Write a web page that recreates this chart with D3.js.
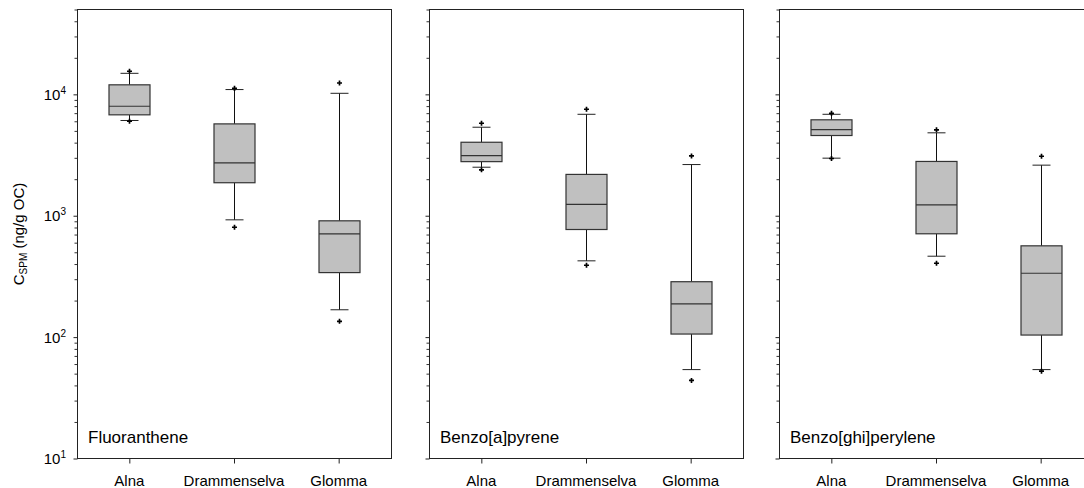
<!DOCTYPE html>
<html>
<head>
<meta charset="utf-8">
<script src="https://cdn.jsdelivr.net/npm/d3@7"></script>
<style>
  body { margin: 0; background: #fff; }
  text { font-family: "Liberation Sans", Arial, sans-serif; fill: #000; }
</style>
</head>
<body>
<div id="chart"></div>
<script>
// compounds (one panel each) and rivers (one box each)
const compounds = ["Fluoranthene", "Benzo[a]pyrene", "Benzo[ghi]perylene"];
const rivers = ["Alna", "Drammenselva", "Glomma"];

// box statistics, indexed [compound][river], ng/g OC
const outlierHigh = [[15500, 11200, 12400], [5780, 7540, 3110], [6980, 5100, 3090]];
const whiskerHigh = [[14900, 10950, 10200], [5360, 6850, 2640], [6850, 4820, 2610]];
const q3 = [[11980, 5710, 908], [4030, 2190, 286], [6170, 2800, 565]];
const median = [[7980, 2730, 709], [3130, 1240, 188], [5130, 1230, 336]];
const q1 = [[6780, 1870, 340], [2790, 770, 106], [4580, 710, 104]];
const whiskerLow = [[6090, 925, 168], [2510, 425, 54], [2980, 464, 54]];
const outlierLow = [[6000, 804, 135], [2390, 391, 44], [2960, 406, 52.4]];

const yDomain = [10, 50000];
const majorTicks = [10, 100, 1000, 10000];

const width = 1084, height = 488;
const panelLeft = [77, 429, 779];
const panelWidth = 314;
const plotTop = 9.5, plotBottom = 458.5;
const boxWidth = 41;
const capWidth = 18;

const svg = d3.select("#chart")
  .append("svg")
  .attr("width", width)
  .attr("height", height);

const y = d3.scaleLog().domain(yDomain).range([plotBottom, plotTop]);

compounds.forEach((name, ci) => {
  const x0 = panelLeft[ci];
  const x = d3.scalePoint()
    .domain(rivers)
    .range([x0, x0 + panelWidth])
    .padding(0.5);

  const g = svg.append("g");

  // minor ticks
  g.append("g")
    .attr("transform", `translate(${x0 + 0.5},0)`)
    .call(d3.axisLeft(y).tickValues(y.ticks().filter((t) => !majorTicks.includes(t))).tickSize(3).tickFormat(""))
    .call((a) => a.select(".domain").remove())
    .call((a) => a.selectAll("line").attr("stroke", "#333"));

  // major ticks
  g.append("g")
    .attr("transform", `translate(${x0 + 0.5},0)`)
    .call(d3.axisLeft(y).tickValues(majorTicks).tickSize(4).tickFormat(""))
    .call((a) => a.select(".domain").remove())
    .call((a) => a.selectAll("line").attr("stroke", "#222"));

  // tick labels only on the first panel: 10^n
  if (ci === 0) {
    const lab = g.selectAll(".ylab")
      .data(majorTicks)
      .enter()
      .append("text")
      .attr("class", "ylab")
      .attr("x", x0 - 11)
      .attr("y", (d) => y(d) + 5.5)
      .attr("text-anchor", "end")
      .attr("font-size", "15px");
    lab.append("tspan").text("10");
    lab.append("tspan")
      .attr("font-size", "10px")
      .attr("dy", -6)
      .text((d) => Math.round(Math.log10(d)));
  }

  // x ticks
  g.append("g")
    .attr("transform", `translate(0,${plotBottom})`)
    .call(d3.axisBottom(x).tickSize(5).tickFormat(""))
    .call((a) => a.select(".domain").remove())
    .call((a) => a.selectAll("line").attr("stroke", "#222"));

  g.selectAll(".xlab")
    .data(rivers)
    .enter()
    .append("text")
    .attr("x", (d) => x(d))
    .attr("y", 486)
    .attr("text-anchor", "middle")
    .attr("font-size", "15px")
    .text((d) => d);

  // boxes
  rivers.forEach((r, ri) => {
    const cx = Math.round(x(r)) + 0.5;
    const bg = g.append("g");

    // whiskers
    bg.append("line")
      .attr("x1", cx).attr("x2", cx)
      .attr("y1", y(whiskerHigh[ci][ri])).attr("y2", y(q3[ci][ri]))
      .attr("stroke", "#111");
    bg.append("line")
      .attr("x1", cx).attr("x2", cx)
      .attr("y1", y(q1[ci][ri])).attr("y2", y(whiskerLow[ci][ri]))
      .attr("stroke", "#111");
    [whiskerHigh[ci][ri], whiskerLow[ci][ri]].forEach((v) => {
      bg.append("line")
        .attr("x1", cx - capWidth / 2).attr("x2", cx + capWidth / 2)
        .attr("y1", y(v)).attr("y2", y(v))
        .attr("stroke", "#222");
    });

    bg.append("rect")
      .attr("x", cx - boxWidth / 2)
      .attr("y", y(q3[ci][ri]))
      .attr("width", boxWidth)
      .attr("height", y(q1[ci][ri]) - y(q3[ci][ri]))
      .attr("fill", "#c0c0c0")
      .attr("stroke", "#333")
      .attr("stroke-width", 1.2);

    bg.append("line")
      .attr("x1", cx - boxWidth / 2).attr("x2", cx + boxWidth / 2)
      .attr("y1", y(median[ci][ri])).attr("y2", y(median[ci][ri]))
      .attr("stroke", "#333")
      .attr("stroke-width", 1.2);

    // outliers
    [outlierHigh[ci][ri], outlierLow[ci][ri]].forEach((v) => {
      bg.append("path")
        .attr("d", d3.symbol().type(d3.symbolCross).size(14)())
        .attr("transform", `translate(${cx},${y(v)})`)
        .attr("fill", "#000");
    });
  });

  // frame
  g.append("rect")
    .attr("x", x0 + 0.5)
    .attr("y", plotTop)
    .attr("width", panelWidth)
    .attr("height", plotBottom - plotTop)
    .attr("fill", "none")
    .attr("stroke", "#222")
    .attr("stroke-width", 1);

  // panel label
  g.append("text")
    .attr("x", x0 + 11)
    .attr("y", 442.5)
    .attr("font-size", "17px")
    .text(name);
});

// y-axis title
const title = svg.append("text")
  .attr("transform", "translate(24,234) rotate(-90)")
  .attr("text-anchor", "middle")
  .attr("font-size", "15px")
  .attr("fill", "#222");
title.append("tspan").text("C");
title.append("tspan").attr("font-size", "10px").attr("dy", 3).text("SPM");
title.append("tspan").attr("dy", -3).text(" (ng/g OC)");
</script>
</body>
</html>
